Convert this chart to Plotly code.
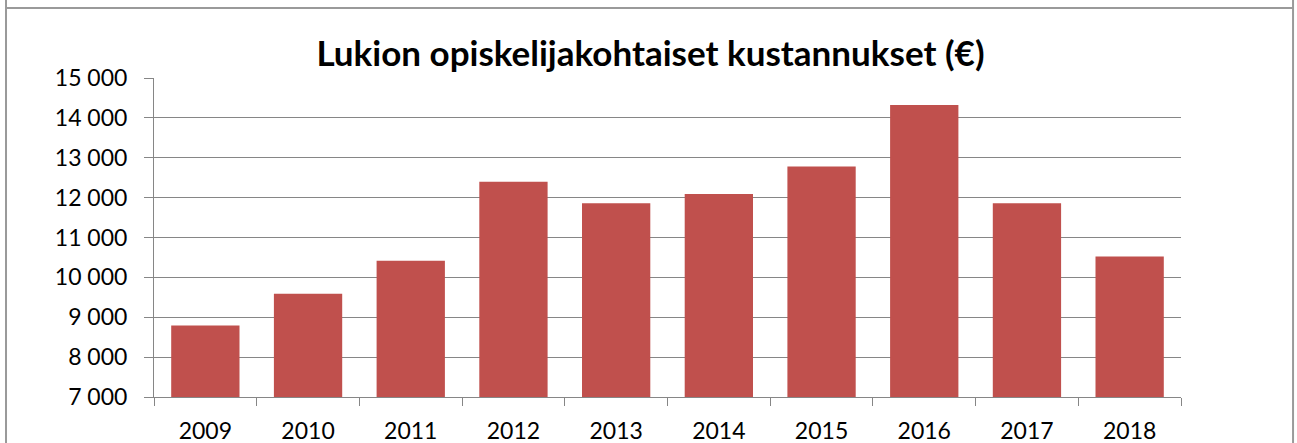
import plotly.graph_objects as go

years = ["2009", "2010", "2011", "2012", "2013", "2014", "2015", "2016", "2017", "2018"]
costs = [8790, 9590, 10420, 12400, 11860, 12090, 12780, 14320, 11860, 10525]
title_text = "Lukion opiskelijakohtaiset kustannukset (€)"
y_ticks = [7000, 8000, 9000, 10000, 11000, 12000, 13000, 14000, 15000]

FONT = "Lato"
GRID = "#868686"

fig = go.Figure(
    go.Bar(
        x=years,
        y=costs,
        marker=dict(color="#C0504D", line=dict(width=0)),
    )
)

fig.update_layout(
    width=1297,
    height=443,
    margin=dict(l=154, r=116, t=78, b=46, autoexpand=False),
    paper_bgcolor="white",
    plot_bgcolor="white",
    separators=", ",
    bargap=0.335,
    showlegend=False,
    title=dict(
        text=title_text,
        x=0.5015,
        xanchor="center",
        y=0.878,
        yanchor="middle",
        font=dict(family=FONT, size=35, color="black", weight="bold"),
    ),
    font=dict(family=FONT, size=23, color="black"),
)

fig.update_yaxes(
    range=[7000, 15000],
    tickvals=y_ticks,
    tickformat=",d",
    showgrid=True,
    gridcolor=GRID,
    gridwidth=1,
    showline=True,
    linecolor=GRID,
    linewidth=1,
    ticks="outside",
    ticklen=9,
    tickcolor=GRID,
    ticklabelstandoff=12,
    zeroline=False,
    automargin=False,
    tickfont=dict(family=FONT, size=23, color="black"),
)

fig.update_xaxes(
    type="category",
    showline=True,
    linecolor=GRID,
    linewidth=1,
    ticks="outside",
    tickson="boundaries",
    ticklen=8,
    tickcolor=GRID,
    showgrid=False,
    ticklabelstandoff=13,
    automargin=False,
    tickfont=dict(family=FONT, size=23, color="black"),
)

# outer chart border (cropped at bottom)
fig.add_shape(type="line", xref="paper", yref="paper",
              x0=-0.1441, x1=-0.1441, y0=-0.3, y1=1.5,
              line=dict(color="#9a9a9a", width=2))
fig.add_shape(type="line", xref="paper", yref="paper",
              x0=1.1091, x1=1.1091, y0=-0.3, y1=1.5,
              line=dict(color="#9a9a9a", width=2))
fig.add_shape(type="line", xref="paper", yref="paper",
              x0=-0.1441, x1=1.1091, y0=1.2194, y1=1.2194,
              line=dict(color="#9a9a9a", width=2))

fig.write_html(
    "out.html",
    config={"displayModeBar": False},
    post_script="document.body.style.margin='0';document.body.style.overflow='hidden';",
)
